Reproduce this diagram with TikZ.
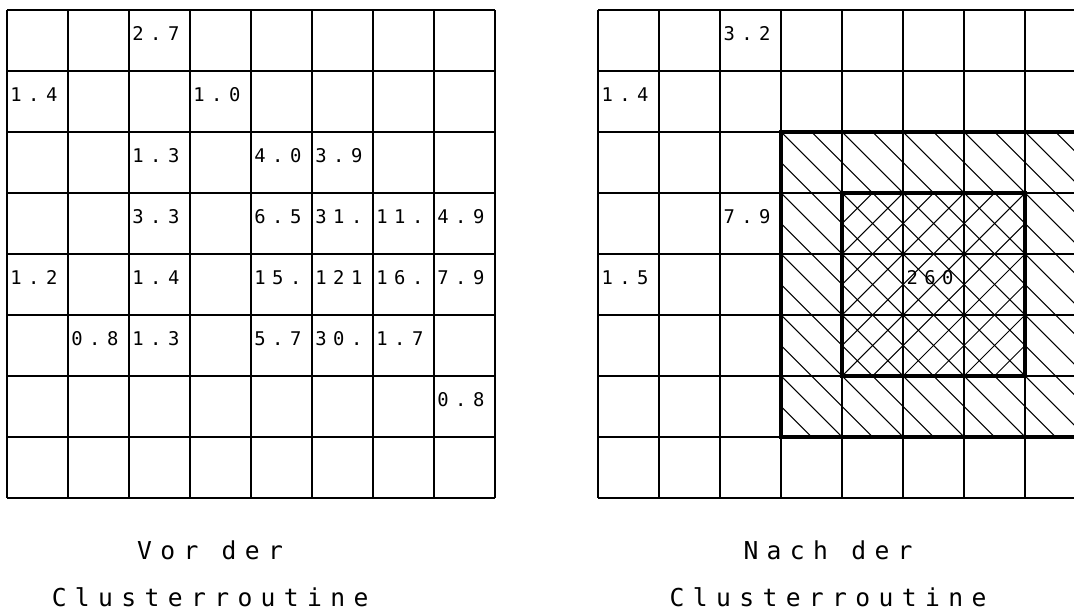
\documentclass[tikz,border=0pt]{standalone}
\usepackage{fontspec}
\newfontfamily\plotfont[LetterSpace=34]{DejaVu Sans Mono}
\usetikzlibrary{positioning}

\begin{document}
\begin{tikzpicture}[
    gitter/.style={line width=0.9pt},
    schraffur/.style={line width=0.45pt},
    rand/.style={line width=1.5pt},
    wert/.style={anchor=base west, inner sep=0pt, font=\plotfont\fontsize{8.8}{10}\selectfont},
    titel/.style={inner sep=0pt, font=\plotfont\fontsize{11.5}{13}\selectfont}
]
    \useasboundingbox (-0.115,-1.836) rectangle (17.492,8.164);
    \clip (-0.115,-1.836) rectangle (17.492,8.164);

    % Vor der Clusterroutine
    \draw[gitter] (0,0) grid (8,8);
    \foreach \c/\r/\v in {3/1/2.7, 1/2/1.4, 4/2/1.0, 3/3/1.3, 5/3/4.0, 6/3/3.9,
        3/4/3.3, 5/4/6.5, 6/4/31., 7/4/11., 8/4/4.9,
        1/5/1.2, 3/5/1.4, 5/5/15., 6/5/121, 7/5/16., 8/5/7.9,
        2/6/0.8, 3/6/1.3, 5/6/5.7, 6/6/30., 7/6/1.7, 8/7/0.8}
        \node[wert] (vor\c\r) at (\c-0.95, 8.5-\r) {\v};

    % Nach der Clusterroutine
    \begin{scope}[xshift=9.69cm]
        \begin{scope}
            \clip (3,1) rectangle (8,6);
            \foreach \s in {4,4.5,...,14}
                \draw[schraffur] (\s-7,7) -- (\s,0);
        \end{scope}
        \begin{scope}
            \clip (4,2) rectangle (7,5);
            \foreach \s in {-1,-0.5,...,5}
                \draw[schraffur] (\s,0) -- (\s+7,7);
        \end{scope}
        \draw[gitter] (0,0) grid (8,8);
        \draw[rand] (3,1) rectangle (8,6);
        \draw[rand] (4,2) rectangle (7,5);
        \foreach \c/\r/\v in {3/1/3.2, 1/2/1.4, 3/4/7.9, 1/5/1.5, 6/5/260}
            \node[wert] (nach\c\r) at (\c-0.95, 8.5-\r) {\v};
    \end{scope}

    % Titel
    \node[titel] (vortitel) at (3.33,-0.85) {Vor der};
    \node[titel, below=0.45cm of vortitel] (vorcluster) {Clusterroutine};
    \node[titel] (nachtitel) at (13.46,-0.85) {Nach der};
    \node[titel, below=0.45cm of nachtitel] (nachcluster) {Clusterroutine};
\end{tikzpicture}
\end{document}
